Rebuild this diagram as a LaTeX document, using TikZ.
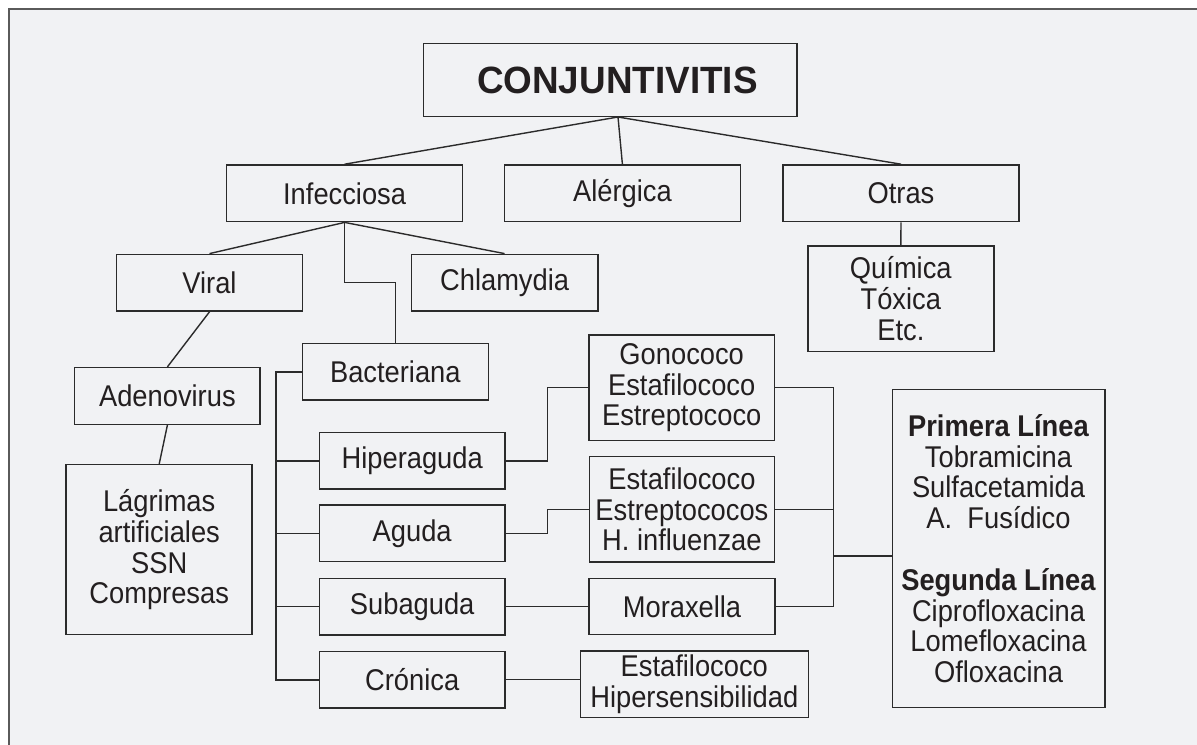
\documentclass[tikz,border=0pt]{standalone}
\usepackage{fontspec}
\setmainfont{Liberation Sans}[FakeStretch=0.91]
\newfontfamily\titlefont{Liberation Sans}[FakeStretch=0.97]
\definecolor{bgc}{HTML}{F1F2F4}
\definecolor{linec}{HTML}{2B2B2B}
\definecolor{framec}{HTML}{5A5A5A}
\definecolor{txtc}{HTML}{231F20}
\begin{document}
\begin{tikzpicture}[x=0.5pt,y=-0.5pt,
  box/.style={draw=linec, line width=0.75pt, fill=bgc, align=center, inner sep=0pt,
    text=txtc, font=\fontsize{15pt}{15.4pt}\selectfont},
  conn/.style={draw=linec, line width=0.7pt},
  bracket/.style={draw=linec, line width=1pt}]
\useasboundingbox (0,0) rectangle (1197,744);
% background frame
\fill[bgc] (8.7,9) rectangle (1200,750);
\draw[framec, line width=1pt] (8.7,750) -- (8.7,9) -- (1200,9);
% nodes
\node[box, minimum width=186.7pt, minimum height=36.7pt, font=\titlefont\fontsize{19pt}{22pt}\selectfont\bfseries] (conj) at (610.3,80) {\hspace*{7pt}CONJUNTIVITIS};
\node[box, minimum width=118pt, minimum height=28.35pt] (infe) at (344.6,193.3) {Infecciosa};
\node[box, minimum width=118pt, minimum height=28.35pt] (aler) at (622.4,193.3) {Alérgica};
\node[box, minimum width=118.2pt, minimum height=28.35pt] (otras) at (901,193.3) {Otras};
\node[box, minimum width=92.8pt, minimum height=28.35pt] (viral) at (209.5,282.7) {Viral};
\node[box, minimum width=93.2pt, minimum height=28.35pt] (chlam) at (504.6,282.7) {Chlamydia};
\node[box, minimum width=93pt, minimum height=52.65pt] (quim) at (900.8,298.7) {Química\\Tóxica\\Etc.};
\node[box, minimum width=93pt, minimum height=28.35pt] (bact) at (395.3,371.7) {Bacteriana};
\node[box, minimum width=92.8pt, minimum height=28.35pt] (adeno) at (167.4,396) {Adenovirus};
\node[box, minimum width=93pt, minimum height=85pt] (lagr) at (159.2,549.7) {Lágrimas\\artificiales\\SSN\\Compresas};
\node[box, minimum width=92.6pt, minimum height=28.25pt] (hiper) at (412.2,460.8) {Hiperaguda};
\node[box, minimum width=92.6pt, minimum height=28.25pt] (aguda) at (412.2,533.3) {Aguda};
\node[box, minimum width=92.6pt, minimum height=28.25pt] (subag) at (412.2,606.5) {Subaguda};
\node[box, minimum width=92.6pt, minimum height=28.25pt] (cron) at (412.2,679.5) {Crónica};
\node[box, minimum width=92.85pt, minimum height=52.65pt] (gono) at (681.7,387.7) {Gonococo\\Estafilococo\\Estreptococo};
\node[box, minimum width=92.6pt, minimum height=52.65pt] (estaf) at (681.9,509.3) {Estafilococo\\Estreptococos\\H. influenzae};
\node[box, minimum width=93pt, minimum height=28.2pt] (morax) at (682,606.5) {Moraxella};
\node[box, minimum width=114pt, minimum height=33.35pt] (estah) at (694.3,684.3) {Estafilococo\\Hipersensibilidad};
\node[box, minimum width=106.25pt, minimum height=159pt] (prim) at (998.5,548.7) {\textbf{Primera Línea}\\Tobramicina\\Sulfacetamida\\A.\ \ Fusídico\\[15.4pt]\textbf{Segunda Línea}\\Ciprofloxacina\\Lomefloxacina\\Ofloxacina};
% coordinates
\coordinate (ctop) at (618,117);
\coordinate (bx) at (275.9,371.7);
\coordinate (rtop) at (833.4,387.7);
\coordinate (rmid) at (833.4,556);
% connectors
\draw[conn] (ctop) -- (infe.north);
\draw[conn] (ctop) -- (aler.north);
\draw[conn] (ctop) -- (otras.north);
\draw[conn] (otras.south) -- (quim.north);
\draw[conn] (infe.south) -- (viral.north);
\draw[conn] (infe.south) -- (chlam.north);
\draw[conn] (infe.south) -- (infe.south |- viral.center) -| (bact.north);
\draw[conn] (viral.south) -- (adeno.north);
\draw[conn] (adeno.south) -- (lagr.north);
\draw[bracket] (bact.west) -- (bx) |- (cron.west);
\draw[conn] (bx |- hiper.west) -- (hiper.west);
\draw[conn] (bx |- aguda.west) -- (aguda.west);
\draw[conn] (bx |- subag.west) -- (subag.west);
\draw[conn] (hiper.east) -- ++(41.7,0) |- (gono.west);
\draw[conn] (aguda.east) -- ++(42,0) |- (estaf.west);
\draw[conn] (subag.east) -- (morax.west);
\draw[conn] (cron.east) -- (cron.east -| estah.west);
\draw[conn] (gono.east) -- (rtop) -- (rtop |- morax.east) -- (morax.east);
\draw[conn] (estaf.east) -- (estaf.east -| rtop);
\draw[conn] (rmid) -- (rmid -| prim.west);
\end{tikzpicture}
\end{document}
